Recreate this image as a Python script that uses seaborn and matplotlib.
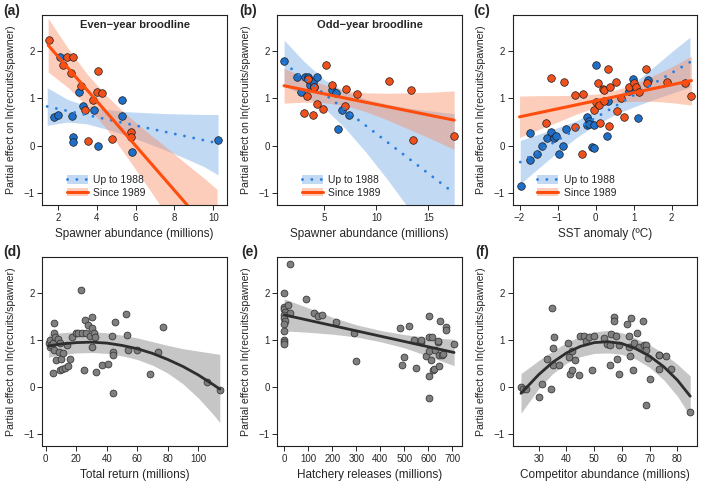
import matplotlib
matplotlib.use("Agg")
import matplotlib.pyplot as plt
import seaborn as sns
from matplotlib.patches import Patch
from matplotlib.lines import Line2D

# ---- (a) even-year broodline ----
a_blue_x = [1.78, 2.0, 2.12, 2.71, 2.79, 2.79, 3.10, 3.28, 3.88, 4.07, 5.31, 5.31, 5.83, 10.25]
a_blue_y = [0.60, 0.64, 1.89, 0.63, 0.19, 0.07, 1.14, 0.84, 0.76, -0.01, 0.97, 0.63, -0.13, 0.12]
a_orange_x = [1.52, 2.29, 2.45, 2.66, 2.76, 3.21, 3.41, 3.53, 3.83, 4.03, 4.07, 4.26, 4.78, 5.76, 5.76]
a_orange_y = [2.24, 1.70, 1.87, 1.54, 1.89, 1.27, 0.76, 0.10, 0.97, 1.14, 1.59, 1.12, 0.13, 0.28, 0.18]
a_blue_fit_x = [1.45, 10.25]
a_blue_fit_y = [0.83, 0.05]
a_blue_band_x = [1.45, 2.5, 3.5, 4.5, 5.5, 6.5, 7.5, 8.5, 9.5, 10.25]
a_blue_hi = [1.23, 0.98, 0.84, 0.77, 0.72, 0.70, 0.68, 0.67, 0.66, 0.66]
a_blue_lo = [0.43, 0.50, 0.46, 0.35, 0.22, 0.07, -0.09, -0.26, -0.44, -0.62]
a_orange_fit_x = [1.5, 10.2]
a_orange_fit_y = [2.13, -1.99]
a_orange_band_x = [1.5, 2.5, 3.5, 4.5, 5.5, 6.5, 7.5, 8.5, 9.5, 10.2]
a_orange_hi = [2.70, 2.08, 1.52, 1.06, 0.67, 0.32, -0.01, -0.35, -0.68, -0.93]
a_orange_lo = [1.56, 1.24, 0.84, 0.36, -0.21, -0.80, -1.41, -2.03, -2.64, -3.05]

# ---- (b) odd-year broodline ----
b_blue_x = [1.15, 2.40, 2.76, 3.17, 3.49, 3.53, 3.65, 3.88, 4.04, 4.29, 5.71, 6.15, 6.28, 6.67, 7.37]
b_blue_y = [1.80, 1.46, 1.13, 1.46, 1.46, 1.39, 1.28, 1.35, 1.24, 1.46, 1.17, 1.11, 0.35, 0.76, 0.65]
b_orange_x = [3.04, 3.37, 3.49, 3.91, 4.07, 4.29, 4.90, 5.19, 5.71, 6.99, 7.12, 8.11, 11.19, 13.30, 13.49, 17.47]
b_orange_y = [0.70, 1.06, 1.41, 0.65, 1.24, 0.88, 0.78, 1.72, 1.29, 0.83, 1.20, 1.10, 1.36, 1.19, 0.12, 0.21]
b_blue_fit_x = [1.15, 17.47]
b_blue_fit_y = [1.75, -1.01]
b_blue_band_x = [1.15, 3, 5, 7, 9, 11, 13, 15, 17.47]
b_blue_hi = [2.24, 1.80, 1.40, 1.15, 0.98, 0.88, 0.80, 0.74, 0.68]
b_blue_lo = [1.26, 1.08, 0.80, 0.37, -0.14, -0.70, -1.30, -1.92, -2.70]
b_orange_fit_x = [1.15, 17.47]
b_orange_fit_y = [1.27, 0.54]
b_orange_band_x = [1.15, 3, 5, 7, 9, 11, 13, 15, 17.47]
b_orange_hi = [1.64, 1.46, 1.29, 1.17, 1.12, 1.11, 1.12, 1.13, 1.16]
b_orange_lo = [0.90, 0.92, 0.91, 0.85, 0.72, 0.55, 0.36, 0.17, -0.08]

# ---- (c) SST anomaly ----
c_blue_x = [-1.97, -1.73, -1.72, -1.54, -1.41, -1.29, -1.16, -1.09, -1.04, -0.95, -0.86, -0.79, -0.22,
            -0.18, -0.23, -0.17, -0.03, -0.10, -0.04, 0.00, 0.30, 0.32, 0.98, 0.87, 1.12, 1.38]
c_blue_y = [-0.86, 0.26, -0.31, -0.17, 0.00, 0.16, 0.28, 0.16, 0.20, -0.18, 0.00, 0.36, 0.60,
            0.53, 0.44, 0.46, 0.43, -0.04, -0.06, 1.72, 0.21, 0.95, 1.41, 1.16, 0.58, 1.39]
c_orange_x = [-1.18, -0.82, -1.31, -0.54, -0.54, -0.34, -0.35, -0.05, 0.00, 0.05, 0.09, 0.11, 0.20, 0.21,
              0.23, 0.32, 0.36, 0.38, 0.53, 0.57, 0.68, 0.74, 0.88, 1.00, 1.06, 1.13, 1.32, 1.35, 1.89, 2.34, 2.51]
c_orange_y = [1.43, 1.34, 0.47, 0.40, 1.08, 1.10, -0.17, 0.76, 0.93, 1.33, 0.86, 0.49, 1.20, 1.17,
              0.95, 1.63, 0.42, 1.24, 1.35, 0.73, 1.00, 0.60, 1.24, 1.32, 1.24, 1.13, 1.63, 1.32, 1.34, 1.33, 1.05]
c_blue_fit_x = [-1.98, 2.48]
c_blue_fit_y = [-0.35, 1.77]
c_blue_band_x = [-1.98, -1.5, -1, -0.5, 0, 0.5, 1, 1.5, 2, 2.48]
c_blue_hi = [0.11, 0.24, 0.38, 0.53, 0.74, 1.01, 1.32, 1.65, 1.99, 2.30]
c_blue_lo = [-0.81, -0.48, -0.14, 0.17, 0.44, 0.65, 0.82, 0.97, 1.11, 1.24]
c_orange_fit_x = [-2.0, 2.52]
c_orange_fit_y = [0.61, 1.38]
c_orange_band_x = [-2, -1.5, -1, -0.5, 0, 0.5, 1, 1.5, 2, 2.52]
c_orange_hi = [1.05, 1.06, 1.06, 1.07, 1.09, 1.17, 1.30, 1.48, 1.67, 1.90]
c_orange_lo = [0.17, 0.34, 0.50, 0.67, 0.81, 0.91, 0.94, 0.94, 0.91, 0.86]

# ---- (d) total return ----
d_x = [2.2, 2.8, 2.8, 3.7, 5.0, 5.0, 5.5, 5.5, 5.5, 6.1, 6.8, 8.1, 8.8, 9.4, 9.4, 10.1, 10.7, 11.2, 12.7, 14.2,
       14.7, 16.0, 17.3, 19.9, 21.4, 23.4, 23.6, 25.4, 25.8, 26.5, 27.6, 28.7, 30.0, 30.0, 30.4, 31.7, 32.6, 33.0,
       37.0, 41.1, 43.5, 44.0, 44.0, 44.0, 45.5, 52.3, 53.0, 54.0, 59.7, 68.1, 73.7, 76.6, 105.5, 114.0]
d_y = [0.93, 1.00, 0.84, 0.89, 0.94, 0.29, 1.35, 1.15, 0.79, 1.07, 0.56, 1.01, 0.75, 0.94, 0.35, 0.59, 0.38, 0.72,
       0.39, 0.89, 0.44, 0.59, 1.05, 1.14, 1.15, 2.07, 1.15, 0.35, 1.42, 1.15, 1.32, 1.09, 1.48, 1.25, 0.84, 1.14,
       1.05, 0.32, 0.46, 0.49, 1.09, 0.75, 0.68, -0.14, 1.37, 1.55, 1.11, 0.79, 0.79, 0.28, 0.74, 1.27, 0.11, -0.06]
d_fit_x = [2, 10, 20, 30, 40, 50, 60, 70, 80, 90, 100, 110, 114]
d_fit_y = [0.87, 0.91, 0.94, 0.95, 0.93, 0.88, 0.81, 0.71, 0.58, 0.43, 0.25, 0.04, -0.05]
d_hi = [1.12, 1.15, 1.17, 1.17, 1.15, 1.10, 1.04, 0.96, 0.88, 0.81, 0.76, 0.71, 0.69]
d_lo = [0.63, 0.68, 0.72, 0.73, 0.71, 0.66, 0.58, 0.46, 0.29, 0.06, -0.24, -0.60, -0.76]

# ---- (e) hatchery releases ----
e_x = [0, 1, 0, 2, 1, 0, 2, 1, 0, 0, 1, 0, 25, 17, 25, 92, 125, 140, 158, 217, 290, 299, 483, 490, 497, 518,
       542, 550, 568, 568, 589, 601, 601, 604, 604, 604, 611, 617, 619, 625, 628, 639, 640, 643, 643, 647,
       656, 662, 672, 672, 707]
e_y = [2.00, 1.70, 1.65, 1.60, 1.53, 1.46, 1.39, 1.34, 1.18, 1.00, 0.95, 0.91, 2.61, 1.75, 1.58, 1.87, 1.58,
       1.50, 1.53, 1.37, 1.14, 0.54, 1.25, 0.47, 0.63, 1.30, 1.00, 0.39, 0.95, 1.00, 0.66, 1.51, 0.24, -0.23,
       1.05, 0.77, 0.56, 1.05, 0.36, 0.37, 0.79, 0.95, 0.98, 0.68, 0.45, 1.41, 0.68, 0.70, 1.28, 1.21, 0.90]
e_fit_x = [0, 707]
e_fit_y = [1.53, 0.73]
e_band_x = [0, 100, 200, 300, 400, 500, 600, 707]
e_hi = [1.87, 1.68, 1.48, 1.32, 1.20, 1.11, 1.05, 1.01]
e_lo = [1.19, 1.16, 1.12, 1.06, 0.96, 0.83, 0.65, 0.45]

# ---- (f) competitor abundance ----
f_x = [23.5, 24.2, 25.4, 30.2, 31.1, 33.0, 34.3, 34.8, 35.2, 35.4, 35.2, 37.4, 40.4, 41.0, 41.3, 42.0, 42.1,
       43.2, 44.5, 44.9, 46.4, 46.9, 48.2, 49.2, 49.9, 53.6, 54.5, 55.7, 55.7, 56.0, 57.2, 57.0, 57.7, 58.2,
       59.0, 59.1, 61.7, 62.4, 62.6, 63.0, 63.3, 63.8, 64.4, 65.5, 66.2, 67.7, 67.9, 68.5, 68.5, 68.5, 69.2,
       70.0, 73.2, 73.5, 73.5, 75.8, 77.5, 84.6]
f_y = [0.00, -0.04, -0.04, -0.21, 0.05, 0.60, -0.04, 1.67, 0.82, 1.05, 0.47, 0.47, 0.94, 0.63, 0.28, 0.35,
       0.77, 0.58, 0.26, 1.09, 1.09, 0.98, 1.05, 0.35, 1.09, 1.04, 0.92, 0.47, 0.88, 1.12, 1.48, 1.40, 1.08,
       0.59, 0.28, 0.88, 1.34, 0.84, 1.08, 0.66, 1.46, 0.35, 0.93, 1.14, 0.84, 1.39, 0.89, 0.89, 0.79, -0.39,
       0.61, 0.17, 0.68, 0.68, 0.37, 0.65, 0.37, -0.54]
f_fit_x = [23.6, 30, 35, 40, 45, 50, 55, 60, 65, 70, 75, 80, 84.6]
f_fit_y = [-0.14, 0.26, 0.52, 0.72, 0.86, 0.94, 0.96, 0.92, 0.81, 0.65, 0.43, 0.14, -0.20]
f_hi = [0.28, 0.56, 0.76, 0.94, 1.08, 1.17, 1.20, 1.15, 1.03, 0.89, 0.71, 0.48, 0.23]
f_lo = [-0.56, -0.04, 0.28, 0.50, 0.64, 0.71, 0.72, 0.69, 0.59, 0.41, 0.15, -0.20, -0.63]

ylab = "Partial effect on ln(recruits/spawner)"
yticks = [-1, 0, 1, 2]
ylim = (-1.26, 2.77)

BLUE_PT = "#1f6fc8"
BLUE_LN = "#2a7fe0"
BLUE_BAND = "#6fa6e6"
ORANGE_PT = "#f0511c"
ORANGE_LN = "#ff4d0d"
ORANGE_BAND = "#f98a5e"
GREY_PT = "#7f7f7f"
GREY_BAND = "#c6c6c6"
DARK = "#2e2e2e"
DOTS = (0, (0.01, 3.2))

sns.set_theme(style="ticks")
plt.rcParams["font.family"] = ["Liberation Sans", "DejaVu Sans"]
plt.rcParams["axes.linewidth"] = 0.8
plt.rcParams["axes.edgecolor"] = "#222222"
plt.rcParams["xtick.major.size"] = 3.5
plt.rcParams["ytick.major.size"] = 3.5
plt.rcParams["xtick.major.width"] = 0.7
plt.rcParams["ytick.major.width"] = 0.7
plt.rcParams["xtick.labelsize"] = 7
plt.rcParams["ytick.labelsize"] = 7
plt.rcParams["xtick.major.pad"] = 2
plt.rcParams["ytick.major.pad"] = 2

fig = plt.figure(figsize=(7.09, 4.88), dpi=100)
lefts = [0.0597, 0.3911, 0.7231]
w = 0.2602
axs_top = [fig.add_axes([l, 0.5799, w, 0.3893]) for l in lefts]
axs_bot = [fig.add_axes([l, 0.0861, w, 0.3880]) for l in lefts]


def style(ax, xlabel, xlim, xticks):
    ax.set_xlim(*xlim)
    ax.set_ylim(*ylim)
    ax.set_xticks(xticks)
    ax.set_yticks(yticks)
    ax.set_yticklabels(["\u22121", "0", "1", "2"])
    ax.set_xticklabels([str(t).replace("-", "\u2212") for t in xticks])
    ax.set_xlabel(xlabel, fontsize=8.5)
    ax.set_ylabel(ylab, fontsize=7.6)
    ax.xaxis.set_label_coords(0.5, -0.12)
    ax.yaxis.set_label_coords(-0.142, 0.5)
    for s in ax.spines.values():
        s.set_visible(True)


def two_group(ax, bx, by, ox, oy, bfx, bfy, bbx, bhi, blo, ofx, ofy, obx, ohi, olo, title=None):
    ax.fill_between(bbx, blo, bhi, color=BLUE_BAND, alpha=0.42, lw=0, zorder=1)
    ax.fill_between(obx, olo, ohi, color=ORANGE_BAND, alpha=0.42, lw=0, zorder=1)
    sns.scatterplot(x=bx, y=by, ax=ax, color=BLUE_PT, s=30, edgecolor="#1a1a1a", linewidth=0.5, zorder=3)
    sns.scatterplot(x=ox, y=oy, ax=ax, color=ORANGE_PT, s=30, edgecolor="#1a1a1a", linewidth=0.5, zorder=3)
    sns.lineplot(x=bfx, y=bfy, ax=ax, color=BLUE_LN, lw=2.1, zorder=4,
                 linestyle=DOTS, dash_capstyle="round")
    sns.lineplot(x=ofx, y=ofy, ax=ax, color=ORANGE_LN, lw=2.2, zorder=4)
    if title:
        ax.text(0.5, 0.945, title, transform=ax.transAxes, ha="center", va="center",
                fontsize=8, fontweight="bold")
    h1 = (Patch(facecolor=BLUE_BAND, alpha=0.42, lw=0),
          Line2D([], [], color=BLUE_LN, lw=2.1, linestyle=DOTS, dash_capstyle="round"))
    h2 = (Patch(facecolor=ORANGE_BAND, alpha=0.42, lw=0), Line2D([], [], color=ORANGE_LN, lw=2.2))
    ax.legend([h1, h2], ["Up to 1988", "Since 1989"], loc="lower left", bbox_to_anchor=(0.095, 0.0),
              frameon=False, fontsize=7.5, handlelength=2.0, handleheight=0.9, labelspacing=0.25,
              handletextpad=0.5, borderaxespad=0.3)


def grey_panel(ax, x, y, fx, fy, hi, lo, bx=None):
    if bx is None:
        bx = fx
    ax.fill_between(bx, lo, hi, color=GREY_BAND, lw=0, zorder=1)
    sns.scatterplot(x=x, y=y, ax=ax, color=GREY_PT, s=24, edgecolor="#3a3a3a", linewidth=0.6, zorder=3)
    sns.lineplot(x=fx, y=fy, ax=ax, color=DARK, lw=2.0, zorder=4)


two_group(axs_top[0], a_blue_x, a_blue_y, a_orange_x, a_orange_y,
          a_blue_fit_x, a_blue_fit_y, a_blue_band_x, a_blue_hi, a_blue_lo,
          a_orange_fit_x, a_orange_fit_y, a_orange_band_x, a_orange_hi, a_orange_lo,
          title="Even\u2212year broodline")
style(axs_top[0], "Spawner abundance (millions)", (1.2, 10.7), [2, 4, 6, 8, 10])

two_group(axs_top[1], b_blue_x, b_blue_y, b_orange_x, b_orange_y,
          b_blue_fit_x, b_blue_fit_y, b_blue_band_x, b_blue_hi, b_blue_lo,
          b_orange_fit_x, b_orange_fit_y, b_orange_band_x, b_orange_hi, b_orange_lo,
          title="Odd\u2212year broodline")
style(axs_top[1], "Spawner abundance (millions)", (0.5, 18.2), [5, 10, 15])

two_group(axs_top[2], c_blue_x, c_blue_y, c_orange_x, c_orange_y,
          c_blue_fit_x, c_blue_fit_y, c_blue_band_x, c_blue_hi, c_blue_lo,
          c_orange_fit_x, c_orange_fit_y, c_orange_band_x, c_orange_hi, c_orange_lo)
style(axs_top[2], "SST anomaly (\u00baC)", (-2.18, 2.67), [-2, -1, 0, 1, 2])

grey_panel(axs_bot[0], d_x, d_y, d_fit_x, d_fit_y, d_hi, d_lo)
style(axs_bot[0], "Total return (millions)", (-2.2, 118.6), [0, 20, 40, 60, 80, 100])

grey_panel(axs_bot[1], e_x, e_y, e_fit_x, e_fit_y, e_hi, e_lo, bx=e_band_x)
style(axs_bot[1], "Hatchery releases (millions)", (-29, 739), [0, 100, 200, 300, 400, 500, 600, 700])

grey_panel(axs_bot[2], f_x, f_y, f_fit_x, f_fit_y, f_hi, f_lo)
style(axs_bot[2], "Competitor abundance (millions)", (20.6, 87.1), [30, 40, 50, 60, 70, 80])

# panel letters
for lab, xp, yp in [("(a)", 0.004, 0.978), ("(b)", 0.337, 0.978), ("(c)", 0.668, 0.978),
                    ("(d)", 0.004, 0.483), ("(e)", 0.340, 0.483), ("(f)", 0.670, 0.483)]:
    fig.text(xp, yp, lab, fontsize=10, fontweight="bold", va="center", ha="left")

fig.savefig("out.png", dpi=100)
